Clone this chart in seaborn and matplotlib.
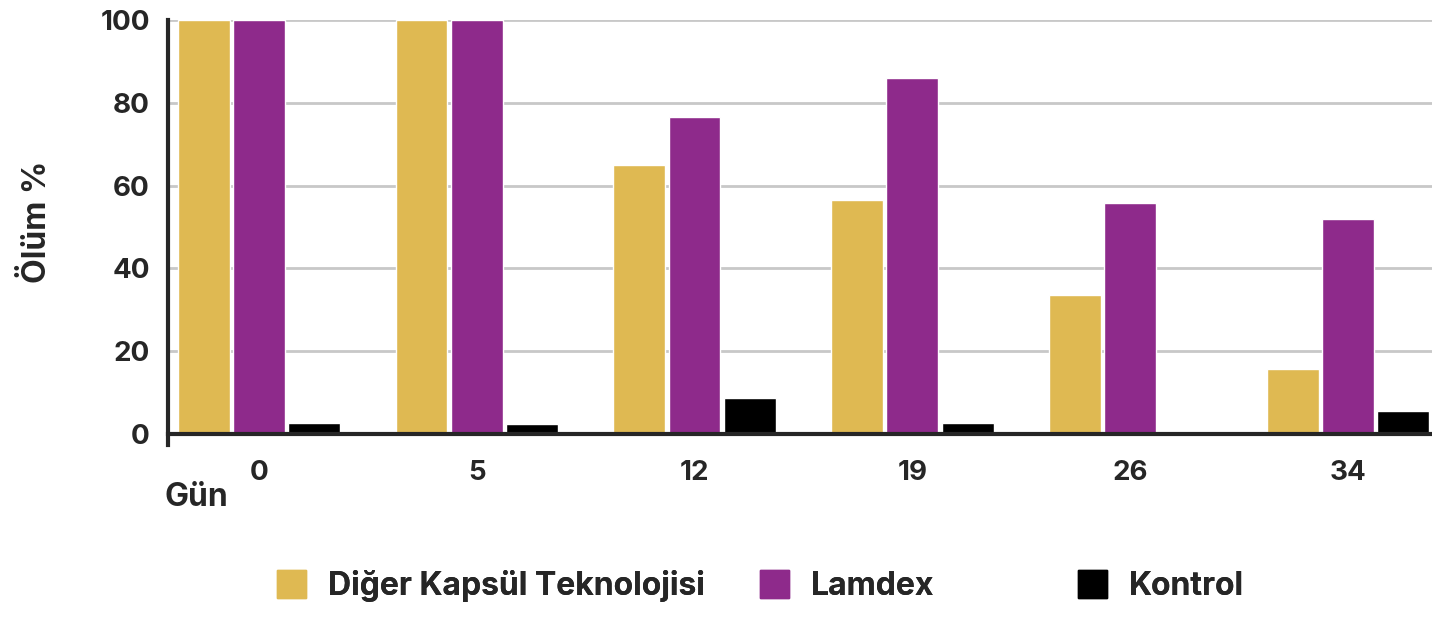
import matplotlib
matplotlib.use("Agg")
import matplotlib.pyplot as plt
import seaborn as sns
import pandas as pd

sns.set_style("white")
plt.rcParams['font.family'] = ['Inter', 'DejaVu Sans']
plt.rcParams['font.weight'] = 'bold'

# data
days = ['0', '5', '12', '19', '26', '34']
diger = [100, 100, 65, 56.5, 33.6, 15.7]
lamdex = [100, 100, 76.6, 86, 55.8, 51.9]
kontrol = [2.7, 2.4, 8.7, 2.7, 0, 5.6]
series = ['Diğer Kapsül Teknolojisi', 'Lamdex', 'Kontrol']
colors = ['#DFB952', '#8E2A8B', '#000000']

df = pd.DataFrame({
    'Gün': days * 3,
    'Ölüm': diger + lamdex + kontrol,
    'Grup': [s for s in series for _ in days],
})

fig = plt.figure(figsize=(14.32, 6.17), dpi=100)
ax = fig.add_axes([168 / 1432, 1 - 444.8 / 617, 1 - 168 / 1432, (444.8 - 20) / 617])

sns.barplot(data=df, x='Gün', y='Ölüm', hue='Grup', palette=colors,
            width=0.76, gap=0.06, saturation=1, ax=ax, legend=False)

ax.set_ylim(-2.6, 100)
ax.set_xlim(-0.417, 5.385)
ax.set_yticks([0, 20, 40, 60, 80, 100])
ax.yaxis.grid(True, color='#c8c8c8', linewidth=2)
ax.set_axisbelow(True)
for s in ['top', 'right']:
    ax.spines[s].set_visible(False)
ax.spines['bottom'].set_position(('data', 0))
ax.spines['bottom'].set_linewidth(3)
ax.spines['left'].set_linewidth(3)
ax.tick_params(axis='y', length=8, width=3, pad=5, labelsize=20)
ax.tick_params(axis='x', length=0, pad=19, labelsize=20)
ax.set_xlabel('')
ax.set_ylabel('')

fig.text(165 / 1432, 1 - 498 / 617, 'Gün', fontsize=23, fontweight='bold',
         ha='left', va='center')
fig.text(38 / 1432, 1 - 222 / 617, 'Ölüm %', fontsize=23, fontweight='bold',
         rotation=90, ha='center', va='center')

# legend entries placed one by one (spacing is uneven in the original)
legend_x = [277, 760, 1078]
for name, col, x in zip(series, colors, legend_x):
    h = plt.Rectangle((0, 0), 1, 1, color=col)
    leg = fig.legend([h], [name], loc='center left',
                     bbox_to_anchor=(x / 1432, 1 - 586 / 617), frameon=False,
                     fontsize=23, handlelength=0.9, handleheight=1.0,
                     handletextpad=0.7, borderpad=0, borderaxespad=0)
    fig.add_artist(leg)

fig.savefig('out.png', dpi=100)
